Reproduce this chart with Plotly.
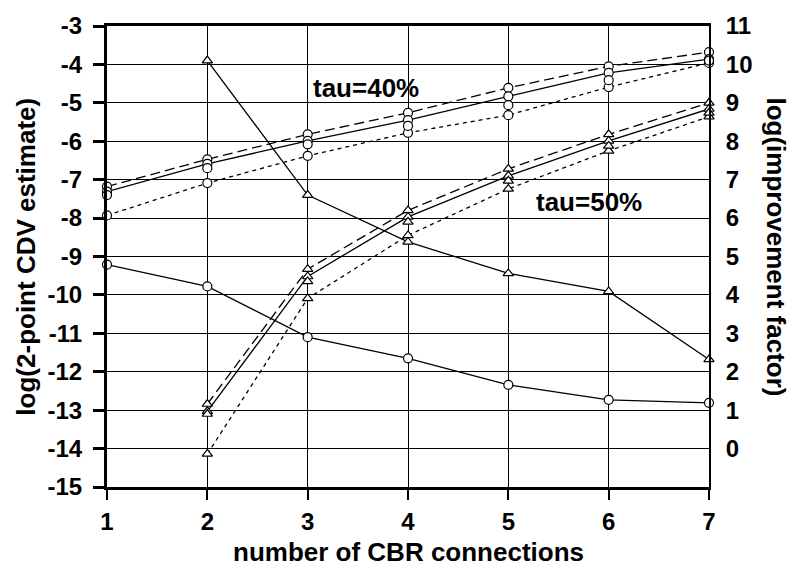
import plotly.graph_objects as go

# ---- data ----
x_all = [1, 2, 3, 4, 5, 6, 7]
x_50 = [2, 3, 4, 5, 6, 7]

# tau=40% (circles), left axis: log(2-point CDV estimate)
tau40_dashed = [-7.18, -6.47, -5.82, -5.26, -4.61, -4.05, -3.68]
tau40_solid = [-7.31, -6.59, -5.99, -5.45, -4.83, -4.22, -3.86]
tau40_marker = [-7.40, -6.70, -6.08, -5.60, -5.06, -4.41, -3.90]
tau40_dotted = [-7.93, -7.09, -6.38, -5.78, -5.32, -4.59, -3.96]

# tau=50% (triangles), left axis
tau50_dashed = [-12.84, -9.33, -7.80, -6.72, -5.82, -5.00]
tau50_solid = [-13.03, -9.52, -7.97, -6.90, -5.99, -5.16]
tau50_marker = [-13.10, -9.65, -8.10, -7.03, -6.12, -5.26]
tau50_dotted = [-14.14, -10.09, -8.45, -7.24, -6.25, -5.36]

# improvement factors, right axis: log(improvement factor)
impr_tau40 = [4.79, 4.22, 2.90, 2.35, 1.66, 1.27, 1.19]
impr_tau50 = [10.10, 6.60, 5.38, 4.56, 4.09, 2.32]

left_ticks = list(range(-15, -2))
right_ticks = list(range(0, 12))

FONT = "Liberation Sans, Arial, sans-serif"
TICKF = dict(family=FONT, size=24, color="black", weight="bold")
TITLEF = dict(family=FONT, size=26, color="black", weight="bold")

fig = go.Figure()

DASH = "10px,5px"
DOT = "4px,4px"
LW = 1.3


def add(x, y, dash, symbol, yaxis="y", mode="lines+markers", name=""):
    fig.add_trace(go.Scatter(
        x=x, y=y, mode=mode, name=name, yaxis=yaxis, cliponaxis=False,
        line=dict(color="black", width=LW, dash=dash),
        marker=dict(symbol=symbol, size=9,
                    color="white", line=dict(color="black", width=1.2)),
    ))


add(x_all, tau40_dashed, DASH, "circle", name="tau=40% dashed")
add(x_all, tau40_solid, "solid", "circle", name="tau=40% solid")
add(x_all, tau40_dotted, DOT, "circle", name="tau=40% dotted")
add(x_all, tau40_marker, "solid", "circle", mode="markers", name="tau=40% points")

add(x_50, tau50_dashed, DASH, "triangle-up", name="tau=50% dashed")
add(x_50, tau50_solid, "solid", "triangle-up", name="tau=50% solid")
add(x_50, tau50_dotted, DOT, "triangle-up", name="tau=50% dotted")
add(x_50, tau50_marker, "solid", "triangle-up", mode="markers", name="tau=50% points")

add(x_all, impr_tau40, "solid", "circle", yaxis="y2", name="improvement tau=40%")
add(x_50, impr_tau50, "solid", "triangle-up", yaxis="y2", name="improvement tau=50%")

fig.update_layout(
    width=790, height=567,
    margin=dict(l=107, r=81, t=23, b=80),
    paper_bgcolor="white", plot_bgcolor="white",
    showlegend=False,
    font=dict(family=FONT, color="black"),
    xaxis=dict(
        range=[1, 7], tickvals=x_all, ticktext=[str(v) for v in x_all],
        showgrid=True, gridcolor="black", gridwidth=1.3,
        showline=True, linecolor="black", linewidth=3, mirror=True,
        ticks="outside", ticklen=10, tickwidth=2, tickcolor="black",
        tickfont=TICKF, ticklabelstandoff=1, zeroline=False,
    ),
    yaxis=dict(
        range=[-15, -3], tickvals=left_ticks, ticktext=[str(v) for v in left_ticks],
        showgrid=True, gridcolor="black", gridwidth=1.3,
        showline=True, linecolor="black", linewidth=3,
        ticks="outside", ticklen=11, tickwidth=3, tickcolor="black",
        tickfont=TICKF, ticklabelstandoff=6, zeroline=False,
    ),
    yaxis2=dict(
        range=[-1, 11], overlaying="y", side="right", anchor="x",
        tickvals=right_ticks, ticktext=[str(v) for v in right_ticks],
        showgrid=False, showline=True, linecolor="black", linewidth=2,
        ticks="", tickfont=TICKF, ticklabelstandoff=10, zeroline=False,
    ),
    annotations=[
        dict(text="number of CBR connections", xref="paper", yref="paper",
             x=0.5, y=-0.142, xanchor="center", yanchor="middle",
             showarrow=False, font=TITLEF),
        dict(text="log(2-point CDV estimate)", xref="paper", yref="paper",
             x=-0.136, y=0.5, xanchor="center", yanchor="middle", textangle=-90,
             showarrow=False, font=TITLEF),
        dict(text="log(improvement factor)", xref="paper", yref="paper",
             x=1.111, y=0.52, xanchor="center", yanchor="middle", textangle=90,
             showarrow=False, font=TITLEF),
        dict(text="tau=40%", xref="x", yref="y", x=3.58, y=-4.61,
             showarrow=False, font=TITLEF),
        dict(text="tau=50%", xref="x", yref="y", x=5.80, y=-7.59,
             showarrow=False, font=TITLEF),
    ],
)

fig.write_html("out.html", config={"displayModeBar": False},
               post_script="document.body.style.margin='0';")
